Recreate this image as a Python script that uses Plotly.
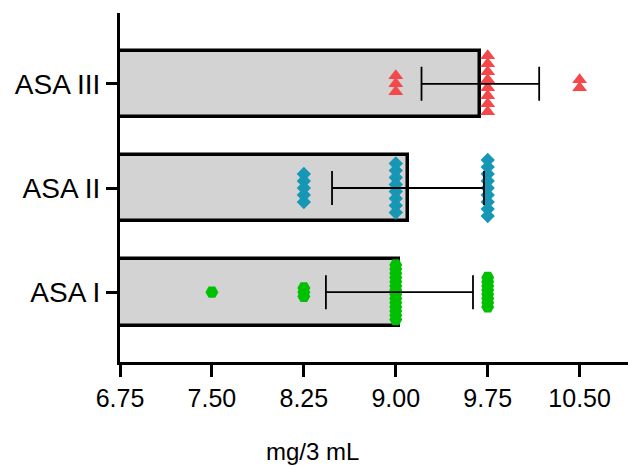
import plotly.graph_objects as go

categories = ["ASA I", "ASA II", "ASA III"]
bar_means = [9.03, 9.10, 9.69]
bar_sd = [0.60, 0.62, 0.48]

asa1_points = [7.5] + [8.25] * 3 + [9.0] * 14 + [9.75] * 8
asa2_points = [8.25] * 5 + [9.0] * 8 + [9.75] * 9
asa3_points = [9.0] * 3 + [9.75] * 8 + [10.5] * 2

x_ticks = [6.75, 7.50, 8.25, 9.00, 9.75, 10.50]
x_tick_labels = ["6.75", "7.50", "8.25", "9.00", "9.75", "10.50"]

# the page body has an 8px default margin; compensate
W, H = 628, 458
ML, MR, MT, MB = 112, 0, 5, 104
Y_RANGE = [-0.67, 2.68]
px_per_unit = (H - MT - MB) / (Y_RANGE[1] - Y_RANGE[0])

groups = [
    (asa1_points, "hexagon2", 13, "#00C000", 4.2),
    (asa2_points, "diamond", 11, "#1597B5", 7.0),
    (asa3_points, "triangle-up", 13, "#F5484B", 8.0),
]

fig = go.Figure()

fig.add_trace(go.Bar(
    x=bar_means, y=list(range(len(categories))), orientation="h",
    width=0.64,
    marker=dict(color="#D3D3D3", line=dict(color="black", width=3.5)),
    showlegend=False, hoverinfo="skip",
))

for gi, (pts, sym, size, color, step_px) in enumerate(groups):
    xs, ys = [], []
    for v in sorted(set(pts)):
        k = pts.count(v)
        for i in range(k):
            off = (i - (k - 1) / 2) * step_px / px_per_unit
            xs.append(v)
            ys.append(gi - off)
    fig.add_trace(go.Scatter(
        x=xs, y=ys, mode="markers",
        marker=dict(symbol=sym, size=size, color=color, line=dict(width=0)),
        showlegend=False,
    ))

fig.add_trace(go.Scatter(
    x=bar_means, y=list(range(len(categories))), mode="markers",
    marker=dict(size=1, color="rgba(0,0,0,0)"),
    error_x=dict(type="data", array=bar_sd, color="black", thickness=1.8, width=17),
    showlegend=False,
))

fig.add_annotation(
    text="mg/3 mL", xref="paper", yref="paper", x=0.374, y=0,
    yshift=-89, showarrow=False, yanchor="middle",
    font=dict(size=24, color="black"),
)

fig.update_layout(
    width=W, height=H,
    margin=dict(l=ML, r=MR, t=MT, b=MB),
    plot_bgcolor="white", paper_bgcolor="white",
    font=dict(family="Liberation Sans, Arial, sans-serif", color="black"),
    bargap=0,
)
fig.update_xaxes(
    range=[6.75, 10.96], tickvals=x_ticks, ticktext=x_tick_labels,
    showgrid=False, zeroline=False, showline=True, linecolor="black", linewidth=3,
    ticks="outside", ticklen=12, tickwidth=3, tickcolor="black",
    tickfont=dict(size=25),
)
fig.update_yaxes(
    range=Y_RANGE, tickvals=list(range(len(categories))), ticktext=categories,
    showgrid=False, zeroline=False, showline=True, linecolor="black", linewidth=3,
    ticks="outside", ticklen=11, tickwidth=3, tickcolor="black",
    tickfont=dict(size=28),
)

fig.write_html("out.html")
